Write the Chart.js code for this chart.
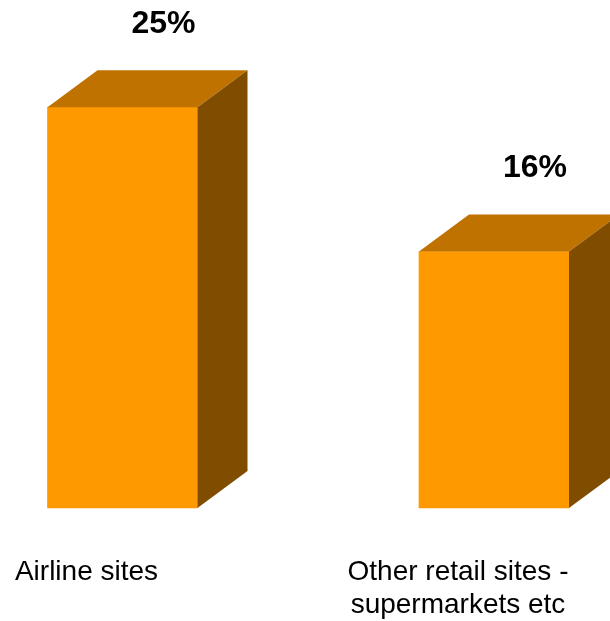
<!DOCTYPE html>
<html>
<head>
<meta charset="utf-8">
<script src="https://cdn.jsdelivr.net/npm/chart.js@4"></script>
<style>
  html, body { margin: 0; padding: 0; background: #fff; }
  #wrap { width: 610px; height: 621px; }
</style>
</head>
<body>
<div id="wrap"><canvas id="chart" width="610" height="621"></canvas></div>
<script>
const categories = [["Airline sites"], ["Other retail sites -", "supermarkets etc"]];
const shares = [25, 16];

const frontColor = "#FF9900";
const topColor = "#C07200";
const sideColor = "#804D00";

// fake 3d depth of each bar
const depthX = 50;
const depthY = 37;

const bar3d = {
  id: "bar3d",
  afterDatasetsDraw(chart) {
    const ctx = chart.ctx;
    const meta = chart.getDatasetMeta(0);
    ctx.save();
    meta.data.forEach((bar, i) => {
      const half = bar.width / 2;
      const x0 = bar.x - half, x1 = bar.x + half;
      const top = bar.y, base = bar.base;

      ctx.fillStyle = topColor;
      ctx.beginPath();
      ctx.moveTo(x0, top);
      ctx.lineTo(x0 + depthX, top - depthY);
      ctx.lineTo(x1 + depthX, top - depthY);
      ctx.lineTo(x1, top);
      ctx.closePath();
      ctx.fill();

      ctx.fillStyle = sideColor;
      ctx.beginPath();
      ctx.moveTo(x1, top);
      ctx.lineTo(x1 + depthX, top - depthY);
      ctx.lineTo(x1 + depthX, base - depthY);
      ctx.lineTo(x1, base);
      ctx.closePath();
      ctx.fill();

      // value label
      ctx.fillStyle = "#000";
      ctx.font = "bold 32px 'Liberation Sans', Arial, sans-serif";
      ctx.textAlign = "center";
      ctx.textBaseline = "alphabetic";
      ctx.fillText(shares[i] + "%", bar.x + 41, top - 74);
    });
    ctx.restore();
  }
};

new Chart(document.getElementById("chart"), {
  type: "bar",
  data: {
    labels: categories,
    datasets: [{
      data: shares,
      backgroundColor: frontColor,
      borderWidth: 0,
      barThickness: 150,
      clip: false
    }]
  },
  options: {
    responsive: false,
    animation: false,
    layout: { padding: { left: 122.5, right: 116, top: 27, bottom: 0 } },
    plugins: { legend: { display: false }, tooltip: { enabled: false } },
    scales: {
      x: {
        offset: false,
        grid: { display: false, drawTicks: false },
        border: { display: false },
        afterFit: (s) => { s.height = 113; s.paddingLeft = 0; s.paddingRight = 0; },
        ticks: {
          color: "#000",
          font: { family: "'Liberation Sans', Arial, sans-serif", size: 28 },
          padding: 47,
          labelOffset: -36,
          maxRotation: 0,
          autoSkip: false
        }
      },
      y: {
        display: false,
        min: 0,
        max: 30
      }
    }
  },
  plugins: [bar3d]
});
</script>
</body>
</html>
